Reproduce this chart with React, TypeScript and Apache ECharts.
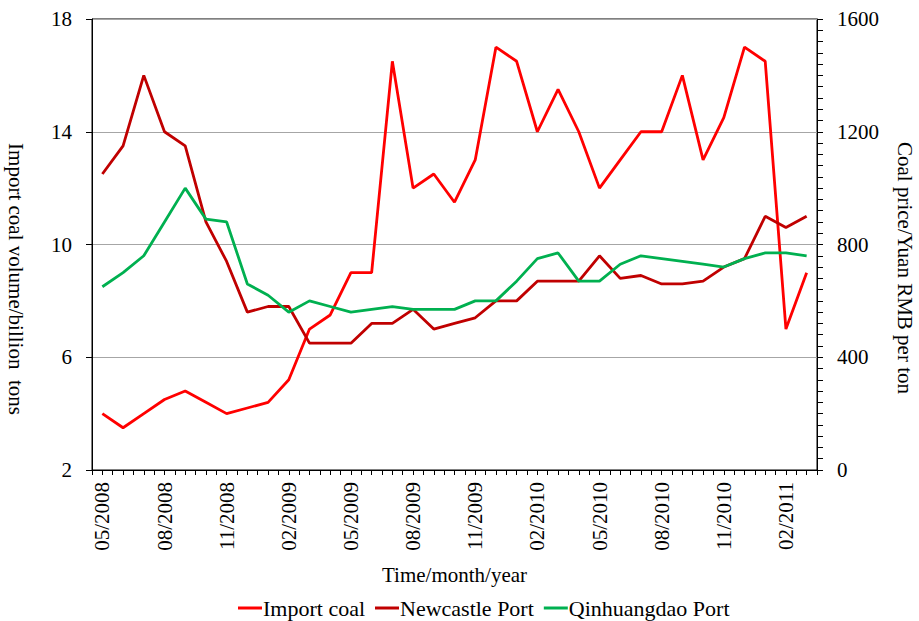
import React, { useEffect, useRef } from "react";
import * as echarts from "echarts";

const months = [
  "05/2008", "06/2008", "07/2008", "08/2008", "09/2008", "10/2008", "11/2008", "12/2008",
  "01/2009", "02/2009", "03/2009", "04/2009", "05/2009", "06/2009", "07/2009", "08/2009",
  "09/2009", "10/2009", "11/2009", "12/2009", "01/2010", "02/2010", "03/2010", "04/2010",
  "05/2010", "06/2010", "07/2010", "08/2010", "09/2010", "10/2010", "11/2010", "12/2010",
  "01/2011", "02/2011", "03/2011",
];

const importCoal = [
  4.0, 3.5, 4.0, 4.5, 4.8, 4.4, 4.0, 4.2, 4.4, 5.2, 7.0, 7.5,
  9.0, 9.0, 16.5, 12.0, 12.5, 11.5, 13.0, 17.0, 16.5, 14.0, 15.5, 14.0,
  12.0, 13.0, 14.0, 14.0, 16.0, 13.0, 14.5, 17.0, 16.5, 7.0, 9.0,
];

const newcastle = [
  1050, 1150, 1400, 1200, 1150, 880, 740, 560, 580, 580, 450, 450,
  450, 520, 520, 570, 500, 520, 540, 600, 600, 670, 670, 670,
  760, 680, 690, 660, 660, 670, 720, 750, 900, 860, 900,
];

const qinhuangdao = [
  650, 700, 760, 880, 1000, 890, 880, 660, 620, 560, 600, 580,
  560, 570, 580, 570, 570, 570, 600, 600, 670, 750, 770, 670,
  670, 730, 760, 750, 740, 730, 720, 750, 770, 770, 760,
];

const seriesNames = ["Import coal", "Newcastle Port", "Qinhuangdao Port"];
const seriesColors = ["#FF0000", "#C00000", "#00B050"];
const leftTitle = "Import coal volume/billion  tons";
const rightTitle = "Coal price/Yuan RMB per ton";
const xTitle = "Time/month/year";

const FONT = "Liberation Serif";

export default function App() {
  const ref = useRef<HTMLDivElement>(null);
  useEffect(() => {
    if (!ref.current) return;
    const chart = echarts.init(ref.current, undefined, { renderer: "svg" });
    const txt = { fontFamily: FONT, fontSize: 21, color: "#000" };
    chart.setOption({
      animation: false,
      backgroundColor: "#fff",
      textStyle: { fontFamily: FONT, fontSize: 21, color: "#000" },
      grid: { left: 92, right: 102, top: 19, bottom: 151, show: true, borderColor: "#000", borderWidth: 1 },
      legend: {
        left: 233,
        top: 592,
        icon: "rect",
        itemWidth: 24,
        itemHeight: 3,
        itemGap: 10,
        textStyle: { ...txt, fontSize: 22, padding: [0, 0, 0, -4] },
        data: seriesNames,
      },
      xAxis: {
        type: "value",
        min: -0.5,
        max: 34.5,
        interval: 0.5,
        name: xTitle,
        nameLocation: "middle",
        nameGap: 94,
        nameTextStyle: { ...txt },
        axisLine: { onZero: false, lineStyle: { color: "#000", width: 1 } },
        axisTick: { show: true, length: 5, lineStyle: { color: "#000" } },
        splitLine: { show: false },
        axisLabel: {
          ...txt,
          rotate: 90,
          margin: 12,
          formatter: (v: number) => {
            if (Number.isInteger(v) && v % 3 === 0 && v >= 0 && v < months.length) return months[v];
            return "";
          },
        },
      },
      yAxis: [
        {
          type: "value",
          min: 2,
          max: 18,
          interval: 4,
          axisLine: { show: true, onZero: false, lineStyle: { color: "#000" } },
          axisTick: { show: true, length: 6, lineStyle: { color: "#000" } },
          splitLine: { show: true, lineStyle: { color: "#A6A6A6", width: 1.2 } },
          axisLabel: { ...txt, margin: 20 },
        },
        {
          type: "value",
          position: "right",
          min: 0,
          max: 1600,
          interval: 400,
          axisLine: { show: true, onZero: false, lineStyle: { color: "#000" } },
          axisTick: { show: true, length: 6, lineStyle: { color: "#000" } },
          minorTick: { show: true, splitNumber: 10, length: 6, lineStyle: { color: "#000" } },
          splitLine: { show: false },
          axisLabel: { ...txt, margin: 20, formatter: (v: number) => String(v) },
        },
      ],
      graphic: [
        {
          type: "text",
          x: 16,
          y: 279,
          rotation: -Math.PI / 2,
          style: { text: leftTitle, font: `21px ${FONT}`, fill: "#000", textAlign: "center", textVerticalAlign: "middle" },
        },
        {
          type: "text",
          x: 905,
          y: 268,
          rotation: -Math.PI / 2,
          style: { text: rightTitle, font: `21px ${FONT}`, fill: "#000", textAlign: "center", textVerticalAlign: "middle" },
        },
      ],
      series: [importCoal, newcastle, qinhuangdao].map((arr, k) => ({
        name: seriesNames[k],
        type: "line",
        yAxisIndex: k === 0 ? 0 : 1,
        symbol: "none",
        lineStyle: { color: seriesColors[k], width: 2.8 },
        itemStyle: { color: seriesColors[k] },
        data: arr.map((v, i) => [i, v]),
      })),
    });
    return () => chart.dispose();
  }, []);
  return <div ref={ref} style={{ width: 919, height: 621, position: "absolute", left: 0, top: 0 }} />;
}
